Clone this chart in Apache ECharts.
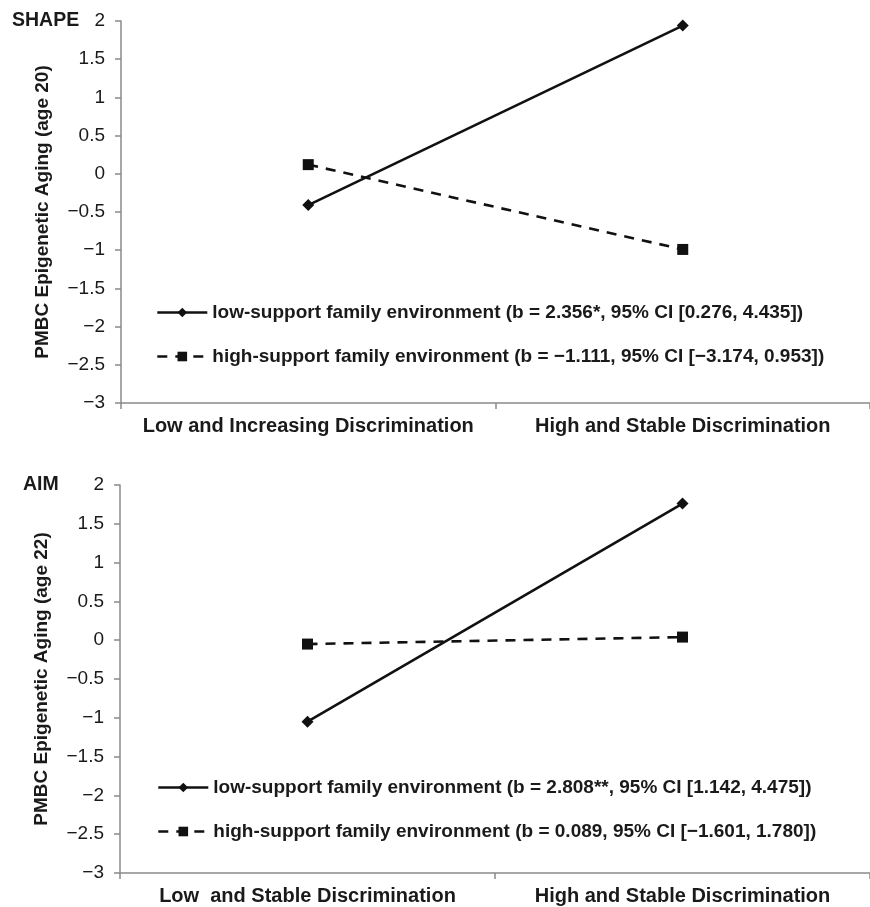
<!DOCTYPE html>
<html>
<head>
<meta charset="utf-8">
<script src="https://cdn.jsdelivr.net/npm/echarts@6/dist/echarts.min.js"></script>
<style>
  html, body { margin: 0; padding: 0; background: #fff; }
  #chart { width: 870px; height: 907px; }
</style>
</head>
<body>
<div id="chart"></div>
<script>
// ---- data ----
const topCategories = ['Low and Increasing Discrimination', 'High and Stable Discrimination'];
const bottomCategories = ['Low  and Stable Discrimination', 'High and Stable Discrimination'];

const topLowName = 'low-support family environment (b = 2.356*, 95% CI [0.276, 4.435])';
const topHighName = 'high-support family environment (b = \u22121.111, 95% CI [\u22123.174, 0.953])';
const botLowName = 'low-support family environment (b = 2.808**, 95% CI [1.142, 4.475])';
const botHighName = 'high-support family environment (b = 0.089, 95% CI [\u22121.601, 1.780])';

const topLow = [-0.41, 1.94];
const topHigh = [0.12, -0.99];
const botLow = [-1.05, 1.76];
const botHigh = [-0.05, 0.04];

const panelTitles = ['SHAPE', 'AIM'];
const yNames = ['PMBC Epigenetic Aging (age 20)', 'PMBC Epigenetic Aging (age 22)'];
const yMin = -3, yMax = 2, yStep = 0.5;

// ---- chart ----
const FONT = '"Liberation Sans", Arial, sans-serif';
const TXT = '#1a1a1a';
const AX = '#8a8a8a';
const minus = v => String(v).replace('-', '\u2212');

function yAxis(gi, name) {
  return {
    type: 'value', gridIndex: gi, min: yMin, max: yMax, interval: yStep,
    name: name, nameLocation: 'middle', nameRotate: 90, nameGap: 69,
    nameTextStyle: { fontFamily: FONT, fontSize: 19, fontWeight: 'bold', color: TXT },
    axisLine: { show: true, lineStyle: { color: AX, width: 1.5 } },
    axisTick: { show: true, length: 6, lineStyle: { color: AX, width: 1.5 } },
    splitLine: { show: false },
    axisLabel: { margin: 16, fontFamily: FONT, fontSize: 19, color: TXT, formatter: minus }
  };
}
function xAxis(gi, cats) {
  return {
    type: 'category', gridIndex: gi, data: cats, boundaryGap: true,
    axisLine: { show: true, onZero: false, lineStyle: { color: AX, width: 1.5 } },
    axisTick: { show: true, length: 6, lineStyle: { color: AX, width: 1.5 } },
    axisLabel: { margin: 13, fontFamily: FONT, fontSize: 20, fontWeight: 'bold', color: TXT, interval: 0 }
  };
}
function lowSeries(name, gi, data) {
  return {
    name: name, type: 'line', xAxisIndex: gi, yAxisIndex: gi, data: data,
    symbol: 'diamond', symbolSize: 12, color: '#111',
    lineStyle: { color: '#111', width: 2.6, type: 'solid' },
    itemStyle: { color: '#111' }, animation: false
  };
}
function highSeries(name, gi, data) {
  return {
    name: name, type: 'line', xAxisIndex: gi, yAxisIndex: gi, data: data,
    symbol: 'rect', symbolSize: 11, color: '#111',
    lineStyle: { color: '#111', width: 2.6, type: [10, 8] },
    itemStyle: { color: '#111' }, animation: false
  };
}
function legend(top, left, names) {
  return {
    orient: 'vertical', top: top, left: left, data: names,
    itemWidth: 50, itemHeight: 12, itemGap: 25, selectedMode: false,
    lineStyle: { width: 2.6 },
    textStyle: { fontFamily: FONT, fontSize: 19, fontWeight: 'bold', color: TXT }
  };
}

const chart = echarts.init(document.getElementById('chart'));
chart.setOption({
  backgroundColor: '#fff',
  animation: false,
  title: [
    { text: panelTitles[0], left: 7, top: 6, textStyle: { fontFamily: FONT, fontSize: 19.5, fontWeight: 'bold', color: TXT } },
    { text: panelTitles[1], left: 18, top: 470, textStyle: { fontFamily: FONT, fontSize: 19.5, fontWeight: 'bold', color: TXT } }
  ],
  grid: [
    { left: 121, top: 21, height: 382, width: 754 },
    { left: 120, top: 485, height: 388, width: 754 }
  ],
  xAxis: [xAxis(0, topCategories), xAxis(1, bottomCategories)],
  yAxis: [yAxis(0, yNames[0]), yAxis(1, yNames[1])],
  legend: [
    legend(298, 151, [topLowName, topHighName]),
    legend(773, 152, [botLowName, botHighName])
  ],
  series: [
    lowSeries(topLowName, 0, topLow),
    highSeries(topHighName, 0, topHigh),
    lowSeries(botLowName, 1, botLow),
    highSeries(botHighName, 1, botHigh)
  ]
});
</script>
</body>
</html>
